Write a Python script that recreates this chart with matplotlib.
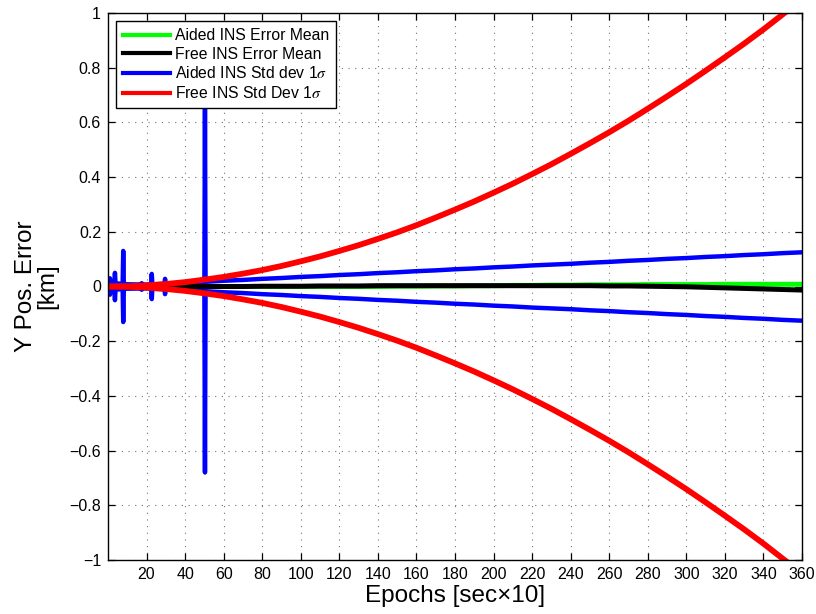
import numpy as np
import matplotlib
matplotlib.use("Agg")
import matplotlib.pyplot as plt

plt.rcParams["font.family"] = ["Liberation Sans", "DejaVu Sans"]
plt.rcParams["mathtext.fontset"] = "stix"

# Epoch grid (units of 10 s)
epochs = list(range(0, 361, 10))

# 1-sigma position error envelope of the free-running INS [km]
free_std = [0.000, 0.001, 0.004, 0.009, 0.016, 0.025, 0.035, 0.047, 0.060, 0.075,
            0.092, 0.110, 0.130, 0.151, 0.174, 0.198, 0.224, 0.252, 0.281, 0.311,
            0.343, 0.376, 0.411, 0.447, 0.485, 0.524, 0.564, 0.606, 0.650, 0.695,
            0.741, 0.789, 0.838, 0.888, 0.940, 0.995, 1.050]

# 1-sigma envelope of the aided INS [km]
aided_std = [0.014, 0.008, 0.007, 0.010, 0.014, 0.017, 0.021, 0.024, 0.028, 0.031,
             0.035, 0.038, 0.042, 0.045, 0.049, 0.052, 0.056, 0.059, 0.063, 0.066,
             0.070, 0.073, 0.077, 0.080, 0.083, 0.087, 0.090, 0.094, 0.097, 0.101,
             0.104, 0.108, 0.111, 0.115, 0.118, 0.122, 0.125]

# Covariance spikes of the aided filter (epoch, half-height in km)
spike_epochs = [1.0, 3.6, 7.9, 17.5, 22.7, 29.6, 50.3]
spike_heights = [0.030, 0.050, 0.130, 0.012, 0.046, 0.028, 0.680]

# Mean position errors [km]
aided_mean = [0.0, 0.0, 0.0, 0.0, 0.0, 0.0, 0.0, 0.0, 0.0, 0.0,
              0.0, 0.0, 0.0, 0.0, 0.0, 0.001, 0.001, 0.002, 0.002, 0.003,
              0.003, 0.004, 0.004, 0.005, 0.005, 0.006, 0.006, 0.006, 0.007, 0.007,
              0.007, 0.007, 0.008, 0.008, 0.008, 0.008, 0.008]
free_mean = [0.0, 0.0, 0.0, 0.0, 0.0, 0.0, 0.0, 0.0, 0.001, 0.001,
             0.001, 0.002, 0.002, 0.002, 0.003, 0.003, 0.003, 0.003, 0.003, 0.003,
             0.003, 0.003, 0.003, 0.003, 0.003, 0.003, 0.002, 0.002, 0.001, 0.000,
             -0.001, -0.003, -0.005, -0.007, -0.009, -0.011, -0.013]

# Merge the spikes into the aided envelope
ax_x = list(epochs)
ax_y = list(aided_std)
for e, h in zip(spike_epochs, spike_heights):
    base_l = float(np.interp(e - 0.3, epochs, aided_std))
    base_r = float(np.interp(e + 0.3, epochs, aided_std))
    ax_x += [e - 0.3, e, e + 0.3]
    ax_y += [base_l, h, base_r]
order = np.argsort(ax_x, kind="stable")
aided_x = np.array(ax_x)[order]
aided_y = np.array(ax_y)[order]

fig = plt.figure(figsize=(8.16, 6.14), dpi=100)
ax = fig.add_axes([108 / 816, 1 - 560 / 614, 694 / 816, 547 / 614])

kw = dict(solid_capstyle="round", solid_joinstyle="round")
ax.plot(aided_x, aided_y, color="#0000ff", lw=3.2, zorder=2, **kw)
ax.plot(aided_x, -aided_y, color="#0000ff", lw=3.2, zorder=2, **kw)
ax.plot(epochs, free_mean, color="black", lw=3.6, zorder=3, **kw)
ax.plot(epochs, aided_mean, color="#00ff00", lw=3.6, zorder=2.9, **kw)
ax.plot(epochs, free_std, color="#ff0000", lw=4.2, zorder=4, **kw)
ax.plot(epochs, -np.array(free_std), color="#ff0000", lw=4.2, zorder=4, **kw)

ax.set_xlim(0, 360)
ax.set_ylim(-1, 1)
ax.set_xticks(range(20, 361, 20))
yt = np.round(np.arange(-1, 1.01, 0.2), 1)
ax.set_yticks(yt)
ax.set_yticklabels([("%g" % (0.0 if abs(v) < 1e-9 else v)).replace("-", "\u2212")
                    for v in yt])

ax.grid(True, color="0.45", linestyle=(0, (1, 5)), lw=0.8)
ax.tick_params(direction="in", length=5, width=0.9, top=True, right=True,
               labelsize=11.5, pad=5.0, colors="black")
for s in ax.spines.values():
    s.set_linewidth(1.0)
    s.set_zorder(6)

ax.set_xlabel("Epochs [sec\u00d710]", fontsize=17.5, labelpad=2)
ax.set_ylabel("Y Pos. Error\n[km]", fontsize=17.5, labelpad=8, linespacing=0.95)

handles = [
    plt.Line2D([], [], color="#00ff00", lw=3),
    plt.Line2D([], [], color="black", lw=3),
    plt.Line2D([], [], color="#0000ff", lw=3),
    plt.Line2D([], [], color="#ff0000", lw=3),
]
labels = ["Aided INS Error Mean", "Free INS Error Mean",
          r"Aided INS Std dev 1$\sigma$", r"Free INS Std Dev 1$\sigma$"]
leg = ax.legend(handles, labels, loc="upper left", bbox_to_anchor=(0.0115, 0.985),
                borderaxespad=0, fontsize=11.3, frameon=True, fancybox=False,
                framealpha=1, edgecolor="black", handlelength=3.0,
                handletextpad=0.32, labelspacing=0.23, borderpad=0.45)
leg.get_frame().set_linewidth(1.0)
leg.set_zorder(10)

fig.savefig("out.png", dpi=100)
